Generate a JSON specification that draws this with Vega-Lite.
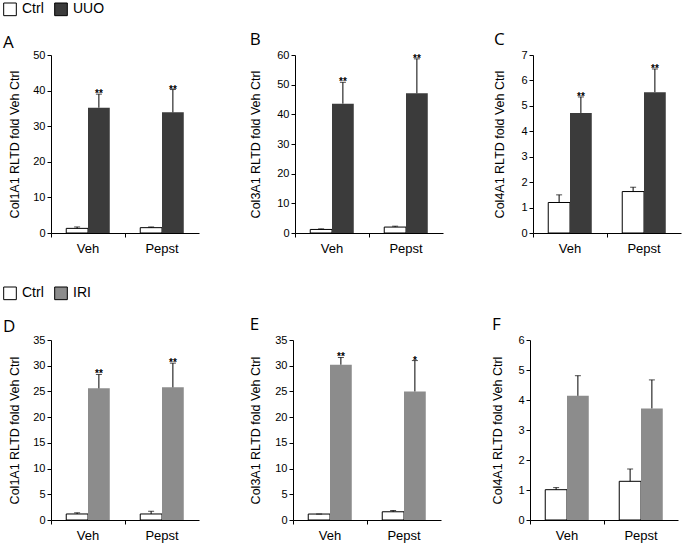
{
  "$schema": "https://vega.github.io/schema/vega-lite/v6.json",
  "padding": {"left": 3, "top": 2, "right": 2, "bottom": 2},
  "background": "white",
  "config": {
    "view": {"stroke": null},
    "font": "Liberation Sans",
    "title": {"anchor": "start", "frame": "bounds", "font": "Open Sans", "fontSize": 17, "fontWeight": "normal", "color": "black", "offset": 0, "dy": 4},
    "axis": {"labelFont": "Liberation Sans", "labelColor": "black", "domainColor": "black", "tickColor": "black", "titleFont": "Liberation Sans", "titleColor": "black", "titleFontWeight": "normal", "grid": false, "tickSize": 4, "labelOverlap": false},
    "axisY": {"labelFontSize": 11, "titleFontSize": 12.5, "titlePadding": 11, "labelPadding": 2},
    "axisX": {"labelFontSize": 13, "labelAngle": 0, "labelPadding": 5, "title": null, "bandPosition": 0},
    "legend": {"orient": "none", "direction": "horizontal", "title": null, "symbolType": "square", "symbolSize": 160, "symbolStrokeColor": "black", "symbolStrokeWidth": 1, "labelFont": "Liberation Sans", "labelFontSize": 14, "labelColor": "black", "labelOffset": 5, "columnPadding": 8}
  },
  "datasets": {
    "uuo": [
      {"panel": "A", "cond": "Veh", "group": "Ctrl", "value": 1.3, "upper": 1.7, "star": ""},
      {"panel": "A", "cond": "Veh", "group": "UUO", "value": 35.2, "upper": 39.0, "star": "**"},
      {"panel": "A", "cond": "Pepst", "group": "Ctrl", "value": 1.5, "upper": 1.7, "star": ""},
      {"panel": "A", "cond": "Pepst", "group": "UUO", "value": 33.9, "upper": 40.3, "star": "**"},
      {"panel": "B", "cond": "Veh", "group": "Ctrl", "value": 1.2, "upper": 1.4, "star": ""},
      {"panel": "B", "cond": "Veh", "group": "UUO", "value": 43.6, "upper": 50.8, "star": "**"},
      {"panel": "B", "cond": "Pepst", "group": "Ctrl", "value": 2.0, "upper": 2.3, "star": ""},
      {"panel": "B", "cond": "Pepst", "group": "UUO", "value": 47.1, "upper": 58.7, "star": "**"},
      {"panel": "C", "cond": "Veh", "group": "Ctrl", "value": 1.2, "upper": 1.5, "star": ""},
      {"panel": "C", "cond": "Veh", "group": "UUO", "value": 4.72, "upper": 5.35, "star": "**"},
      {"panel": "C", "cond": "Pepst", "group": "Ctrl", "value": 1.63, "upper": 1.8, "star": ""},
      {"panel": "C", "cond": "Pepst", "group": "UUO", "value": 5.54, "upper": 6.45, "star": "**"}
    ],
    "iri": [
      {"panel": "D", "cond": "Veh", "group": "Ctrl", "value": 1.17, "upper": 1.4, "star": ""},
      {"panel": "D", "cond": "Veh", "group": "IRI", "value": 25.6, "upper": 28.3, "star": "**"},
      {"panel": "D", "cond": "Pepst", "group": "Ctrl", "value": 1.17, "upper": 1.7, "star": ""},
      {"panel": "D", "cond": "Pepst", "group": "IRI", "value": 25.8, "upper": 30.5, "star": "**"},
      {"panel": "E", "cond": "Veh", "group": "Ctrl", "value": 1.16, "upper": 1.16, "star": ""},
      {"panel": "E", "cond": "Veh", "group": "IRI", "value": 30.2, "upper": 31.6, "star": "**"},
      {"panel": "E", "cond": "Pepst", "group": "Ctrl", "value": 1.6, "upper": 1.85, "star": ""},
      {"panel": "E", "cond": "Pepst", "group": "IRI", "value": 25.0, "upper": 31.0, "star": "*"},
      {"panel": "F", "cond": "Veh", "group": "Ctrl", "value": 1.01, "upper": 1.08, "star": ""},
      {"panel": "F", "cond": "Veh", "group": "IRI", "value": 4.14, "upper": 4.81, "star": ""},
      {"panel": "F", "cond": "Pepst", "group": "Ctrl", "value": 1.29, "upper": 1.7, "star": ""},
      {"panel": "F", "cond": "Pepst", "group": "IRI", "value": 3.72, "upper": 4.67, "star": ""}
    ]
  },
  "spacing": 31,
  "vconcat": [
    {
      "spacing": 50,
      "hconcat": [
        {
          "width": 148, "height": 178,
          "title": {"text": "A", "dy": 54},
          "data": {"name": "uuo"},
          "transform": [{"filter": "datum.panel === 'A'"}],
          "encoding": {
            "x": {"field": "cond", "type": "nominal", "sort": ["Veh", "Pepst"], "scale": {"paddingInner": 0, "paddingOuter": 0}},
            "xOffset": {"field": "group", "type": "nominal", "sort": ["Ctrl", "UUO"], "scale": {"paddingInner": 0, "paddingOuter": 0.7}}
          },
          "layer": [
            {"mark": {"type": "bar"},
             "encoding": {
               "y": {"field": "value", "type": "quantitative", "scale": {"domain": [0, 50]}, "axis": {"values": [0, 10, 20, 30, 40, 50], "title": "Col1A1 RLTD fold Veh Ctrl"}},
               "fill": {"field": "group", "type": "nominal", "scale": {"domain": ["Ctrl", "UUO"], "range": ["white", "#3b3b3b"]}, "legend": {"legendX": -48, "legendY": -53}},
               "stroke": {"condition": {"test": "datum.group === 'Ctrl'", "value": "black"}, "value": null}
             }},
            {"mark": {"type": "rule", "color": "black", "strokeWidth": 1}, "encoding": {"y": {"field": "value", "type": "quantitative", "axis": {"values": [0, 10, 20, 30, 40, 50], "title": "Col1A1 RLTD fold Veh Ctrl"}}, "y2": {"field": "upper"}}},
            {"mark": {"type": "tick", "color": "black", "thickness": 1, "size": 6, "orient": "horizontal"}, "encoding": {"y": {"field": "upper", "type": "quantitative", "axis": {"values": [0, 10, 20, 30, 40, 50], "title": "Col1A1 RLTD fold Veh Ctrl"}}}},
            {"mark": {"type": "text", "color": "black", "fontSize": 10, "fontWeight": "bold", "baseline": "alphabetic", "dy": 3}, "encoding": {"y": {"field": "upper", "type": "quantitative", "axis": {"values": [0, 10, 20, 30, 40, 50], "title": "Col1A1 RLTD fold Veh Ctrl"}}, "text": {"field": "star"}}}
          ]
        },
        {
          "width": 148, "height": 178,
          "title": {"text": "B"},
          "data": {"name": "uuo"},
          "transform": [{"filter": "datum.panel === 'B'"}],
          "encoding": {
            "x": {"field": "cond", "type": "nominal", "sort": ["Veh", "Pepst"], "scale": {"paddingInner": 0, "paddingOuter": 0}},
            "xOffset": {"field": "group", "type": "nominal", "sort": ["Ctrl", "UUO"], "scale": {"paddingInner": 0, "paddingOuter": 0.7}}
          },
          "layer": [
            {"mark": {"type": "bar"},
             "encoding": {
               "y": {"field": "value", "type": "quantitative", "scale": {"domain": [0, 60]}, "axis": {"values": [0, 10, 20, 30, 40, 50, 60], "title": "Col3A1 RLTD fold Veh Ctrl", "titlePadding": 14}},
               "fill": {"field": "group", "type": "nominal", "scale": {"domain": ["Ctrl", "UUO"], "range": ["white", "#3b3b3b"]}, "legend": null},
               "stroke": {"condition": {"test": "datum.group === 'Ctrl'", "value": "black"}, "value": null}
             }},
            {"mark": {"type": "rule", "color": "black", "strokeWidth": 1}, "encoding": {"y": {"field": "value", "type": "quantitative", "axis": {"values": [0, 10, 20, 30, 40, 50, 60], "title": "Col3A1 RLTD fold Veh Ctrl", "titlePadding": 14}}, "y2": {"field": "upper"}}},
            {"mark": {"type": "tick", "color": "black", "thickness": 1, "size": 6, "orient": "horizontal"}, "encoding": {"y": {"field": "upper", "type": "quantitative", "axis": {"values": [0, 10, 20, 30, 40, 50, 60], "title": "Col3A1 RLTD fold Veh Ctrl", "titlePadding": 14}}}},
            {"mark": {"type": "text", "color": "black", "fontSize": 10, "fontWeight": "bold", "baseline": "alphabetic", "dy": 3}, "encoding": {"y": {"field": "upper", "type": "quantitative", "axis": {"values": [0, 10, 20, 30, 40, 50, 60], "title": "Col3A1 RLTD fold Veh Ctrl", "titlePadding": 14}}, "text": {"field": "star"}}}
          ]
        },
        {
          "width": 148, "height": 178,
          "title": {"text": "C"},
          "data": {"name": "uuo"},
          "transform": [{"filter": "datum.panel === 'C'"}],
          "encoding": {
            "x": {"field": "cond", "type": "nominal", "sort": ["Veh", "Pepst"], "scale": {"paddingInner": 0, "paddingOuter": 0}},
            "xOffset": {"field": "group", "type": "nominal", "sort": ["Ctrl", "UUO"], "scale": {"paddingInner": 0, "paddingOuter": 0.7}}
          },
          "layer": [
            {"mark": {"type": "bar"},
             "encoding": {
               "y": {"field": "value", "type": "quantitative", "scale": {"domain": [0, 7]}, "axis": {"values": [0, 1, 2, 3, 4, 5, 6, 7], "title": "Col4A1 RLTD fold Veh Ctrl", "titlePadding": 14}},
               "fill": {"field": "group", "type": "nominal", "scale": {"domain": ["Ctrl", "UUO"], "range": ["white", "#3b3b3b"]}, "legend": null},
               "stroke": {"condition": {"test": "datum.group === 'Ctrl'", "value": "black"}, "value": null}
             }},
            {"mark": {"type": "rule", "color": "black", "strokeWidth": 1}, "encoding": {"y": {"field": "value", "type": "quantitative", "axis": {"values": [0, 1, 2, 3, 4, 5, 6, 7], "title": "Col4A1 RLTD fold Veh Ctrl", "titlePadding": 14}}, "y2": {"field": "upper"}}},
            {"mark": {"type": "tick", "color": "black", "thickness": 1, "size": 6, "orient": "horizontal"}, "encoding": {"y": {"field": "upper", "type": "quantitative", "axis": {"values": [0, 1, 2, 3, 4, 5, 6, 7], "title": "Col4A1 RLTD fold Veh Ctrl", "titlePadding": 14}}}},
            {"mark": {"type": "text", "color": "black", "fontSize": 10, "fontWeight": "bold", "baseline": "alphabetic", "dy": 3}, "encoding": {"y": {"field": "upper", "type": "quantitative", "axis": {"values": [0, 1, 2, 3, 4, 5, 6, 7], "title": "Col4A1 RLTD fold Veh Ctrl", "titlePadding": 14}}, "text": {"field": "star"}}}
          ]
        }
      ],
      "resolve": {"scale": {"y": "independent", "fill": "independent", "x": "independent", "xOffset": "independent"}}
    },
    {
      "spacing": 50,
      "hconcat": [
        {
          "width": 148, "height": 180,
          "title": {"text": "D", "dy": 54},
          "data": {"name": "iri"},
          "transform": [{"filter": "datum.panel === 'D'"}],
          "encoding": {
            "x": {"field": "cond", "type": "nominal", "sort": ["Veh", "Pepst"], "scale": {"paddingInner": 0, "paddingOuter": 0}},
            "xOffset": {"field": "group", "type": "nominal", "sort": ["Ctrl", "IRI"], "scale": {"paddingInner": 0, "paddingOuter": 0.7}}
          },
          "layer": [
            {"mark": {"type": "bar"},
             "encoding": {
               "y": {"field": "value", "type": "quantitative", "scale": {"domain": [0, 35]}, "axis": {"values": [0, 5, 10, 15, 20, 25, 30, 35], "title": "Col1A1 RLTD fold Veh Ctrl"}},
               "fill": {"field": "group", "type": "nominal", "scale": {"domain": ["Ctrl", "IRI"], "range": ["white", "#8c8c8c"]}, "legend": {"legendX": -48, "legendY": -54}},
               "stroke": {"condition": {"test": "datum.group === 'Ctrl'", "value": "black"}, "value": null}
             }},
            {"mark": {"type": "rule", "color": "black", "strokeWidth": 1}, "encoding": {"y": {"field": "value", "type": "quantitative", "axis": {"values": [0, 5, 10, 15, 20, 25, 30, 35], "title": "Col1A1 RLTD fold Veh Ctrl"}}, "y2": {"field": "upper"}}},
            {"mark": {"type": "tick", "color": "black", "thickness": 1, "size": 6, "orient": "horizontal"}, "encoding": {"y": {"field": "upper", "type": "quantitative", "axis": {"values": [0, 5, 10, 15, 20, 25, 30, 35], "title": "Col1A1 RLTD fold Veh Ctrl"}}}},
            {"mark": {"type": "text", "color": "black", "fontSize": 10, "fontWeight": "bold", "baseline": "alphabetic", "dy": 3}, "encoding": {"y": {"field": "upper", "type": "quantitative", "axis": {"values": [0, 5, 10, 15, 20, 25, 30, 35], "title": "Col1A1 RLTD fold Veh Ctrl"}}, "text": {"field": "star"}}}
          ]
        },
        {
          "width": 148, "height": 180,
          "title": {"text": "E"},
          "data": {"name": "iri"},
          "transform": [{"filter": "datum.panel === 'E'"}],
          "encoding": {
            "x": {"field": "cond", "type": "nominal", "sort": ["Veh", "Pepst"], "scale": {"paddingInner": 0, "paddingOuter": 0}},
            "xOffset": {"field": "group", "type": "nominal", "sort": ["Ctrl", "IRI"], "scale": {"paddingInner": 0, "paddingOuter": 0.7}}
          },
          "layer": [
            {"mark": {"type": "bar"},
             "encoding": {
               "y": {"field": "value", "type": "quantitative", "scale": {"domain": [0, 35]}, "axis": {"values": [0, 5, 10, 15, 20, 25, 30, 35], "title": "Col3A1 RLTD fold Veh Ctrl", "titlePadding": 12}},
               "fill": {"field": "group", "type": "nominal", "scale": {"domain": ["Ctrl", "IRI"], "range": ["white", "#8c8c8c"]}, "legend": null},
               "stroke": {"condition": {"test": "datum.group === 'Ctrl'", "value": "black"}, "value": null}
             }},
            {"mark": {"type": "rule", "color": "black", "strokeWidth": 1}, "encoding": {"y": {"field": "value", "type": "quantitative", "axis": {"values": [0, 5, 10, 15, 20, 25, 30, 35], "title": "Col3A1 RLTD fold Veh Ctrl", "titlePadding": 12}}, "y2": {"field": "upper"}}},
            {"mark": {"type": "tick", "color": "black", "thickness": 1, "size": 6, "orient": "horizontal"}, "encoding": {"y": {"field": "upper", "type": "quantitative", "axis": {"values": [0, 5, 10, 15, 20, 25, 30, 35], "title": "Col3A1 RLTD fold Veh Ctrl", "titlePadding": 12}}}},
            {"mark": {"type": "text", "color": "black", "fontSize": 10, "fontWeight": "bold", "baseline": "alphabetic", "dy": 3}, "encoding": {"y": {"field": "upper", "type": "quantitative", "axis": {"values": [0, 5, 10, 15, 20, 25, 30, 35], "title": "Col3A1 RLTD fold Veh Ctrl", "titlePadding": 12}}, "text": {"field": "star"}}}
          ]
        },
        {
          "width": 148, "height": 180,
          "title": {"text": "F"},
          "data": {"name": "iri"},
          "transform": [{"filter": "datum.panel === 'F'"}],
          "encoding": {
            "x": {"field": "cond", "type": "nominal", "sort": ["Veh", "Pepst"], "scale": {"paddingInner": 0, "paddingOuter": 0}},
            "xOffset": {"field": "group", "type": "nominal", "sort": ["Ctrl", "IRI"], "scale": {"paddingInner": 0, "paddingOuter": 0.7}}
          },
          "layer": [
            {"mark": {"type": "bar"},
             "encoding": {
               "y": {"field": "value", "type": "quantitative", "scale": {"domain": [0, 6]}, "axis": {"values": [0, 1, 2, 3, 4, 5, 6], "title": "Col4A1 RLTD fold Veh Ctrl", "titlePadding": 13}},
               "fill": {"field": "group", "type": "nominal", "scale": {"domain": ["Ctrl", "IRI"], "range": ["white", "#8c8c8c"]}, "legend": null},
               "stroke": {"condition": {"test": "datum.group === 'Ctrl'", "value": "black"}, "value": null}
             }},
            {"mark": {"type": "rule", "color": "black", "strokeWidth": 1}, "encoding": {"y": {"field": "value", "type": "quantitative", "axis": {"values": [0, 1, 2, 3, 4, 5, 6], "title": "Col4A1 RLTD fold Veh Ctrl", "titlePadding": 13}}, "y2": {"field": "upper"}}},
            {"mark": {"type": "tick", "color": "black", "thickness": 1, "size": 6, "orient": "horizontal"}, "encoding": {"y": {"field": "upper", "type": "quantitative", "axis": {"values": [0, 1, 2, 3, 4, 5, 6], "title": "Col4A1 RLTD fold Veh Ctrl", "titlePadding": 13}}}},
            {"mark": {"type": "text", "color": "black", "fontSize": 10, "fontWeight": "bold", "baseline": "alphabetic", "dy": 3}, "encoding": {"y": {"field": "upper", "type": "quantitative", "axis": {"values": [0, 1, 2, 3, 4, 5, 6], "title": "Col4A1 RLTD fold Veh Ctrl", "titlePadding": 13}}, "text": {"field": "star"}}}
          ]
        }
      ],
      "resolve": {"scale": {"y": "independent", "fill": "independent", "x": "independent", "xOffset": "independent"}}
    }
  ],
  "resolve": {"scale": {"fill": "independent"}}
}
